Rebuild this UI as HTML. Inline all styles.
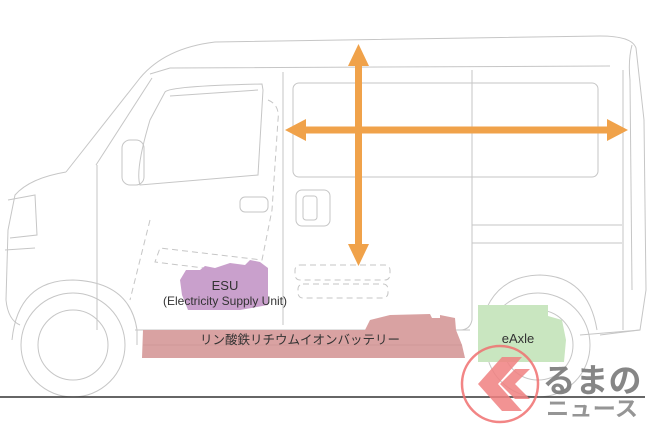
<!DOCTYPE html>
<html><head><meta charset="utf-8"><style>
html,body{margin:0;padding:0;background:#fff;}
svg{display:block;}
text{font-family:"Liberation Sans","Noto Sans CJK JP",sans-serif;}
</style></head><body>
<svg width="650" height="433" viewBox="0 0 650 433" xmlns="http://www.w3.org/2000/svg">
<g fill="none" stroke="#c6c6c6" stroke-width="1">
  <path d="M140 78 Q165 48 215 42 L600 36 Q632 36 636 48 L644 120 L646 290 L640 330 L600 335"/>
  <path d="M150 74 L170 68 L610 66"/>
  <path d="M632 45 Q628 60 630 80 L632 290"/>
  <path d="M140 78 L66 172"/>
  <path d="M152 78 L96 165"/>
  <path d="M66 172 Q30 178 15 195 L8 230 L6 300 Q8 320 20 325"/>
  <path d="M8 200 L35 195 L37 235 L10 238"/>
  <path d="M5 250 L35 248"/>
  <path d="M97 165 L97 330"/>
  <path d="M165 92 Q170 86 262 84 L263 90 L258 175 L140 185 Q135 170 150 120 Z"/>
  <path d="M170 96 L258 90"/>
  <rect x="122" y="140" width="22" height="45" rx="8"/>
  <rect x="240" y="197" width="28" height="15" rx="5"/>
  <path d="M283 72 L283 325"/>
  <path d="M472 70 L472 320 Q470 330 460 330"/>
  <rect x="293" y="83" width="305" height="94" rx="6"/>
  <path d="M472 225 L622 225 M472 243 L622 243"/>
  <path d="M623 70 L623 330"/>
  <rect x="296" y="190" width="34" height="36" rx="6"/>
  <rect x="303" y="196" width="14" height="24" rx="3"/>
  <path d="M135 330 L470 330"/>
  <path d="M580 335 L640 330"/>
  <path d="M12 340 Q18 280 73 280 Q130 282 137 330 L137 345"/>
  <circle cx="73" cy="345" r="52"/>
  <circle cx="73" cy="345" r="35"/>
  <path d="M480 330 Q490 276 540 275 Q588 276 597 330"/>
  <circle cx="538" cy="345" r="52"/>
  <circle cx="538" cy="345" r="35"/>
  <g stroke-dasharray="6 4">
    <path d="M268 100 Q280 105 278 120 L272 210 L262 260 L160 248 L155 262 L260 275"/>
    <path d="M150 220 L130 300"/>
    <rect x="295" y="265" width="95" height="15" rx="5"/>
    <rect x="298" y="284" width="90" height="14" rx="5"/>
  </g>
</g>
<path d="M180 280 L186 270 L200 270 L205 266 L215 268 L230 263 L245 265 L250 260 L260 262 L268 268 L268 305 L240 310 L188 310 L182 295 Z" fill="#c9a0cc"/>
<text x="225" y="290" font-size="13" fill="#333" text-anchor="middle">ESU</text>
<text x="225" y="305" font-size="12" fill="#333" text-anchor="middle">(Electricity Supply Unit)</text>
<path d="M143 330 L365 330 L370 320 L390 315 L430 314 L432 318 L440 318 L440 315 L455 318 L456 330 L462 345 L465 358 L142 358 Z" fill="#d9a2a2"/>
<path d="M143 345 L462 345" stroke="#c48e8e" stroke-width="0.6"/>
<text x="300" y="344" font-size="12.5" fill="#333" text-anchor="middle">リン酸鉄リチウムイオンバッテリー</text>
<path d="M478 305 L548 305 L548 316 L562 320 L566 340 L564 362 L478 362 Z" fill="#c9e6c0"/>
<text x="518" y="343" font-size="13" fill="#333" text-anchor="middle">eAxle</text>
<line x1="0" y1="397" x2="645" y2="397" stroke="#333" stroke-width="1.5"/>
<g fill="#f0a24a">
  <rect x="355" y="58" width="7" height="192"/>
  <polygon points="358.5,44 348,66 369,66"/>
  <polygon points="358.5,266 348,244 369,244"/>
  <rect x="300" y="126.5" width="312" height="7"/>
  <polygon points="285,130 306,119 306,141"/>
  <polygon points="628,130 607,119 607,141"/>
</g>
<!-- logo -->
<circle cx="500" cy="384" r="38" fill="none" stroke="#f07070" stroke-width="2.5" opacity="0.85"/>
<path d="M478 384 L502 357 L522 357 L498 384 L522 411 L502 411 Z" fill="#f08080" opacity="0.85"/>
<path d="M500 384 L515 369 L530 369 L515 384 L530 399 L515 399 Z" fill="#f08080" opacity="0.85"/>
<text x="592" y="392" font-size="33" font-weight="bold" fill="#7a7a7a" text-anchor="middle" opacity="0.9">るまの</text>
<text x="592" y="416" font-size="21" font-weight="bold" fill="#8a8a8a" text-anchor="middle" textLength="92" lengthAdjust="spacingAndGlyphs" opacity="0.9">ニュース</text>
</svg>
</body></html>
